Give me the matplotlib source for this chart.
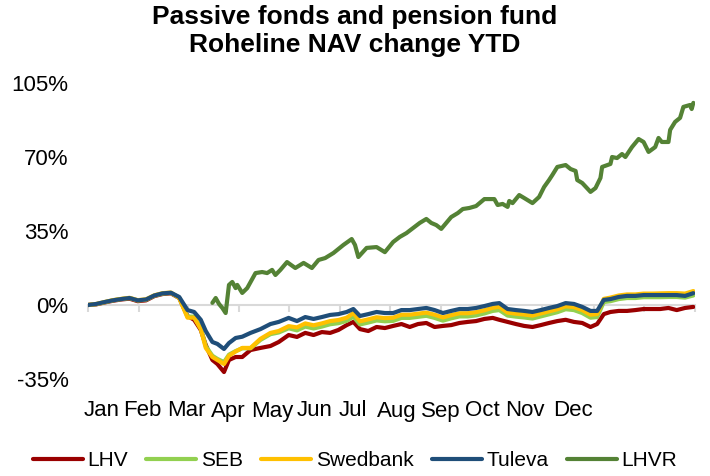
import matplotlib
matplotlib.use("Agg")
import matplotlib.pyplot as plt
import matplotlib.dates as mdates
import numpy as np
import pandas as pd

plt.rcParams['font.family'] = ['Liberation Sans', 'DejaVu Sans']

title = "Passive fonds and pension fund\nRoheline NAV change YTD"
month_labels = ["Jan", "Feb", "Mar", "Apr", "May", "Jun", "Jul", "Aug", "Sep", "Oct", "Nov", "Dec"]
y_ticks = [-35, 0, 35, 70, 105]

dates = ["2020-01-01", "2020-01-06", "2020-01-11", "2020-01-16", "2020-01-21", "2020-01-26", "2020-01-31",
         "2020-02-05", "2020-02-10", "2020-02-15", "2020-02-20", "2020-02-25",
         "2020-03-01", "2020-03-05", "2020-03-09", "2020-03-12", "2020-03-16", "2020-03-19", "2020-03-23",
         "2020-03-26", "2020-03-30", "2020-04-03", "2020-04-08", "2020-04-14", "2020-04-20", "2020-04-25",
         "2020-05-01", "2020-05-06", "2020-05-11", "2020-05-16", "2020-05-21", "2020-05-26", "2020-05-31",
         "2020-06-05", "2020-06-09", "2020-06-13", "2020-06-18", "2020-06-23", "2020-06-28",
         "2020-07-03", "2020-07-08", "2020-07-13", "2020-07-18", "2020-07-23", "2020-07-28",
         "2020-08-02", "2020-08-07", "2020-08-12", "2020-08-17", "2020-08-22", "2020-08-27",
         "2020-09-01", "2020-09-05", "2020-09-10", "2020-09-15", "2020-09-20", "2020-09-25", "2020-09-30",
         "2020-10-05", "2020-10-10", "2020-10-15", "2020-10-20", "2020-10-25", "2020-10-30",
         "2020-11-03", "2020-11-07", "2020-11-11", "2020-11-16", "2020-11-21", "2020-11-26",
         "2020-12-01", "2020-12-06", "2020-12-11", "2020-12-16", "2020-12-21", "2020-12-26", "2020-12-31"]

tuleva = [0, 0.5, 1.4, 2.2, 2.8, 3.3, 2.2,
          2.6, 4.5, 5.5, 5.8, 3.8,
          -2.4, -3.3, -7, -12.3, -17.5, -18.4, -20.8,
          -18, -15.6, -15, -13.2, -11.4, -9, -8,
          -6.1, -7.6, -5.7, -6.6, -5.7, -4.7, -4.3,
          -3.3, -1.9, -5.2, -4.3, -3.3, -3.8,
          -3.8, -2.4, -2.4, -1.9, -1.4, -2.4,
          -3.8, -2.8, -1.9, -1.9, -1.4, -0.5,
          0.5, 0.9, -1.9, -2.4, -2.8, -3.3, -2.4,
          -1.4, -0.5, 0.9, 0.5, -0.9, -2.8,
          -2.8, 2.4, 2.8, 3.8, 4.3, 4.3,
          4.7, 4.7, 4.7, 4.7, 4.7, 4.3, 5.6]

swedbank = [0, 0.5, 1.4, 2.3, 2.9, 3.4, 2.3,
            2.7, 4.6, 5.6, 5.9, 3.3,
            -6, -6, -11.4, -20.3, -24.6, -26, -27.9,
            -24, -22, -20.3, -20.3, -16, -13.2, -12.3,
            -10, -10.6, -8.7, -9.6, -8.7, -7.6, -7.1,
            -6.0, -3.8, -7.7, -6.8, -5.8, -6.2,
            -6.0, -4.6, -4.6, -4.1, -3.6, -4.6,
            -5.9, -4.8, -3.9, -3.9, -3.4, -2.5,
            -1.3, -0.9, -3.6, -4.1, -4.5, -5.0, -4.0,
            -3.0, -2.0, -0.6, -1.0, -2.4, -4.6,
            -4.3, 2.9, 3.5, 4.5, 5.0, 5.0,
            5.4, 5.4, 5.5, 5.6, 5.6, 5.4, 6.6]

seb = [0, 0.4, 1.3, 2.2, 2.8, 3.3, 2.1,
       2.5, 4.4, 5.4, 5.7, 3.5,
       -5.5, -5.5, -11, -19.5, -24, -25.5, -27,
       -23.5, -21.8, -20.5, -20.5, -16.5, -13.8, -13,
       -11, -12, -10.2, -11.1, -10.2, -9.1, -8.6,
       -7.5, -5.5, -9.2, -8.3, -7.3, -7.7,
       -7.5, -6.1, -6.1, -5.6, -5.1, -6.1,
       -7.4, -6.3, -5.4, -5.4, -4.9, -4.0,
       -2.8, -2.4, -5.0, -5.5, -5.9, -6.4, -5.4,
       -4.4, -3.4, -2.0, -2.4, -3.8, -6.0,
       -5.7, 1.4, 1.8, 2.8, 3.3, 3.3,
       3.7, 3.7, 3.7, 3.8, 3.8, 3.5, 4.5]

lhv = [0, 0.3, 1.2, 2.0, 2.6, 3.0, 1.8,
       2.2, 4.2, 5.2, 5.5, 3.3,
       -5.2, -7, -11.8, -18.9, -26, -27.9, -31.7,
       -26, -24.6, -24.6, -21.3, -20.3, -19.4, -17.5,
       -14.2, -15.1, -13.2, -14.2, -12.8, -13.2, -11.8,
       -9.5, -8, -11.4, -12.3, -10.4, -10.9,
       -9.9, -9, -10.4, -9, -8.5, -10.4,
       -9.9, -9.5, -8.5, -8, -7.6, -6.6,
       -6.1, -7, -8, -9, -9.9, -10.4, -9.5,
       -8.5, -7.6, -7, -8, -8.5, -10.4,
       -9, -4.3, -3.3, -2.8, -2.8, -2.4,
       -1.9, -1.9, -1.9, -1.4, -2.4, -1.4, -0.9]

lhvr_dates = ["2020-03-16", "2020-03-18", "2020-03-20", "2020-03-22", "2020-03-24", "2020-03-26",
              "2020-03-28", "2020-03-30", "2020-03-31", "2020-04-03", "2020-04-06", "2020-04-11",
              "2020-04-15", "2020-04-18", "2020-04-21", "2020-04-23", "2020-04-26", "2020-04-30",
              "2020-05-05", "2020-05-10", "2020-05-15", "2020-05-19", "2020-05-23", "2020-05-28",
              "2020-06-03", "2020-06-08", "2020-06-10", "2020-06-12", "2020-06-17", "2020-06-23",
              "2020-06-28", "2020-07-03", "2020-07-07", "2020-07-11", "2020-07-15", "2020-07-19",
              "2020-07-23", "2020-07-26", "2020-07-29", "2020-08-01", "2020-08-04", "2020-08-07",
              "2020-08-11", "2020-08-14", "2020-08-18", "2020-08-22", "2020-08-27", "2020-09-02",
              "2020-09-04", "2020-09-07", "2020-09-10", "2020-09-11", "2020-09-13", "2020-09-17",
              "2020-09-20", "2020-09-25", "2020-09-29", "2020-10-02", "2020-10-05", "2020-10-07",
              "2020-10-10", "2020-10-15", "2020-10-18", "2020-10-21", "2020-10-22", "2020-10-25",
              "2020-10-30", "2020-11-02", "2020-11-05", "2020-11-06", "2020-11-11", "2020-11-12",
              "2020-11-15", "2020-11-18", "2020-11-20", "2020-11-24", "2020-11-28", "2020-12-01",
              "2020-12-04", "2020-12-08", "2020-12-10", "2020-12-12", "2020-12-16", "2020-12-17",
              "2020-12-20", "2020-12-23", "2020-12-25", "2020-12-29", "2020-12-30", "2020-12-31"]

lhvr = [1.0, 3.3, 0.5, -1.4, -3.8, 9.5,
        10.9, 8.0, 9.5, 5.7, 8.0, 15.1,
        15.6, 15.1, 16.6, 14.2, 16.6, 20.3,
        17.5, 19.9, 17.5, 21.3, 22.2, 24.6,
        28.4, 31.2, 28.4, 22.7, 27.0, 27.4,
        25.0, 29.8, 32.2, 34.0, 36.4, 38.8,
        40.7, 38.8, 37.8, 36.0, 38.8, 41.6,
        43.5, 45.4, 45.9, 46.8, 50.1, 50.1,
        47.3, 47.8, 46.4, 49.2, 48.2, 52.0,
        50.6, 48.2, 51.1, 55.8, 59.1, 61.5,
        65.3, 66.2, 64.3, 63.4, 59.1, 57.7,
        53.5, 55.3, 60.1, 65.3, 66.7, 70.0,
        69.5, 71.4, 70.0, 74.7, 78.5, 77.1,
        72.4, 74.7, 79.0, 77.1, 77.1, 82.8,
        86.6, 88.5, 93.7, 94.6, 92.7, 95.6]

series = [("LHV", lhv, "#9A0000"),
          ("SEB", seb, "#92D050"),
          ("Swedbank", swedbank, "#FFC000"),
          ("Tuleva", tuleva, "#1F4E79")]

fig = plt.figure(figsize=(7.1, 4.76), dpi=100)
ax = fig.add_axes([88/710, 97/476, 607/710, 296/476])

x = pd.to_datetime(dates)
for name, vals, col in series:
    ax.plot(x, vals, color=col, lw=3, label=name, solid_capstyle='round', solid_joinstyle='round')
ax.plot(pd.to_datetime(lhvr_dates), lhvr, color="#548235", lw=3, label="LHVR",
        solid_capstyle='round', solid_joinstyle='round')

ax.set_xlim(pd.Timestamp("2020-01-01"), pd.Timestamp("2021-01-01"))
ax.set_ylim(-35, 105)
ax.set_yticks(y_ticks)
ax.set_yticklabels([f"{v}%" for v in y_ticks], fontsize=16)
ax.tick_params(axis='y', length=0, pad=14)

for s in ['top', 'right', 'left']:
    ax.spines[s].set_visible(False)
ax.spines['bottom'].set_position(('data', 0))
ax.spines['bottom'].set_color('#D9D9D9')
ax.spines['bottom'].set_linewidth(1.5)
ax.spines['bottom'].set_zorder(0.5)
ax.xaxis.set_major_locator(mdates.MonthLocator())
ax.tick_params(axis='x', direction='out', length=5, width=1.5, color='#D9D9D9', labelbottom=False)

label_px = [102, 142, 186, 228, 272, 315, 353, 397, 441, 482, 525, 573]
for lab, px in zip(month_labels, label_px):
    fig.text(px/710, 1 - 411/476, lab, ha='center', va='center', fontsize=16)

fig.text(355/710, 1 - 31/476, title, ha='center', va='center', fontsize=19,
         fontweight='bold', linespacing=1.2)

fig.legend(loc='center', bbox_to_anchor=(0.5, 1 - 461/476), ncol=5, frameon=False,
           fontsize=15, handlelength=2.4, handletextpad=0.2, columnspacing=0.9)

fig.savefig("out.png", dpi=100)
